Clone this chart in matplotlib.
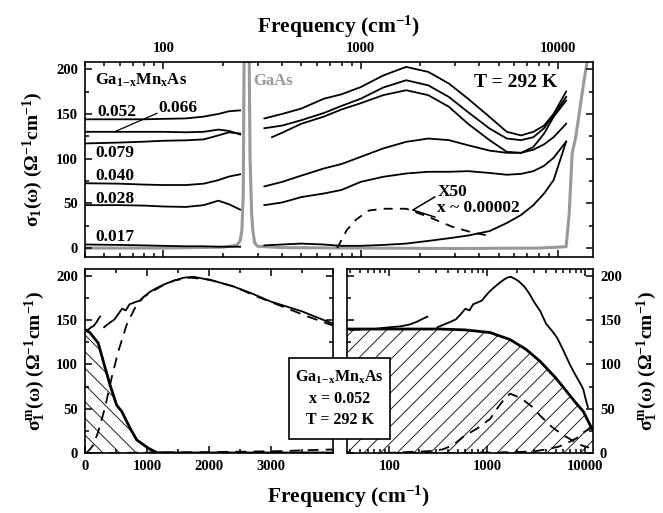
import numpy as np
import matplotlib
matplotlib.use('Agg')
import matplotlib.pyplot as plt
from matplotlib.ticker import MultipleLocator, FuncFormatter, NullFormatter
from matplotlib.patches import Rectangle

# ---- data ----
# top panel, far infrared part (below the GaAs phonon)
f_far = [40, 60, 80, 100, 130, 160, 190, 215, 245]
far_052 = [144, 144, 144, 144.5, 145, 147, 150, 153, 154]
far_066 = [130, 130, 130, 130, 129.5, 130, 132.5, 131, 127]
far_079 = [117, 118, 119, 120, 120.5, 121.5, 126, 129.5, 128]
far_040 = [72.5, 72, 71, 70.5, 70.5, 72, 76, 80, 82.5]
far_028 = [48, 48, 47.5, 46.5, 46, 48, 53, 49, 43]
far_017 = [4, 3.5, 3, 2.5, 2, 2, 1.5, 1.5, 1.5]

# top panel, mid infrared part
f_mid = [325, 400, 500, 650, 800, 1000, 1300, 1700, 2200, 2800, 3500,
         4500, 5500, 6500, 7500, 8500, 9500, 11000]
f_mid_079 = [355] + f_mid[1:]
mid_052 = [145, 150, 156, 167, 172, 180, 193, 202.6, 197, 184, 167,
           146.7, 130, 126, 130, 137, 150, 175]
mid_066 = [134, 137, 143, 151, 159, 167, 179.5, 187.7, 182, 169, 152,
           133.7, 122.5, 120.7, 124, 134, 148.6, 169]
mid_079 = [124, 129, 139, 147, 155, 162, 171, 176.5, 171, 158, 139,
           120.7, 107.6, 106.5, 113, 128, 146.7, 165]
mid_040 = [69, 74, 81, 89, 94, 102, 111.4, 118.8, 122.5, 120.7, 115,
           109, 106.5, 106.5, 110, 116, 124, 139]
mid_028 = [48, 51, 57, 61, 65, 74, 79.7, 83.4, 85.3, 85.3, 86,
           84, 82, 83, 86, 92, 101, 119]
mid_017 = [3, 4, 5, 4, 2.5, 2.5, 3.5, 5, 8, 11, 14,
           19, 28, 37, 48, 61, 76, 119]

# GaAs reference film x 50
f_x50 = [760, 850, 950, 1100, 1300, 1700, 2200, 2900, 3600, 4400]
v_x50 = [0, 20, 32, 42, 44, 44, 35, 24, 18, 14]

# GaAs substrate (grey)
f_gaas = [40, 100, 200, 235, 245, 250, 254, 258, 262, 266, 270, 275, 280,
          284, 290, 300, 400, 1000, 3000, 8000, 11000, 11400, 11800, 12300,
          12800, 13500, 14200, 15000]
v_gaas = [0, 0, 1, 3, 8, 20, 60, 300, 900, 900, 300, 100, 40,
          20, 6, 2, 0.5, 0, -0.5, 0, 1.5, 39, 106, 124,
          150, 185, 215, 240]

# bottom panels: x = 0.052 measured spectrum
f_m_far = [40, 70, 100, 130, 160, 190, 215, 245]
m_far = [139, 140, 142, 143, 145, 148, 151, 154]
f_m_mid = [310, 360, 420, 480, 540, 600, 660, 720, 800, 880, 960, 1050,
           1150, 1300, 1450, 1600, 1750, 1900, 2100, 2400, 2700, 3000,
           3500, 4000, 4600, 5200, 6000, 7000, 8000, 9000, 9600, 10200, 10700]
m_mid = [142, 145, 148, 151, 157, 163, 161, 168, 170, 172, 177, 182,
         186, 191, 195, 198, 199, 197, 194, 188, 180, 171,
         160, 146, 138, 130, 116, 100, 88, 78, 72, 60, 52]

# bottom left: narrow Drude and fit
f_drude_n = [0, 81, 216, 297, 405, 513, 594, 729, 837, 1026, 1161, 1400, 4000]
v_drude_n = [139.5, 136, 124, 103.6, 77, 54, 47, 28, 14.7, 5.3, 0.4, 0, 0]
f_fit = [25, 80, 135, 216, 324, 432, 540, 675, 810, 945, 1080, 1250, 1450,
         1700, 2000, 2400, 2800, 3200, 3600, 4000]
v_fit = [0, 4, 9, 24, 51, 85, 115, 145, 164, 176, 182, 189, 195,
         198, 196, 188, 176, 165, 154, 144]

# bottom right: broad Drude, mid-IR band, interband onset
f_drude_b = [37, 100, 200, 331, 600, 1073, 1720, 2500, 3470, 5000, 6500,
             8000, 9600, 11700, 12100]
v_drude_b = [140, 140, 140, 140, 139, 136, 128, 117, 103.6, 85, 69.5,
             57, 47, 28, 26]
f_mir = [90, 150, 250, 350, 450, 573, 800, 1073, 1300, 1526, 1720, 2000,
         2400, 2860, 3500, 4580, 6000, 7500, 9000, 11000]
v_mir = [0, 1, 2, 4, 9, 18.5, 28, 38.5, 52, 62, 67, 64,
         59, 52.5, 42, 29.5, 20, 14, 9, 6]
f_ib = [100, 500, 1000, 2000, 3090, 4000, 5340, 6500, 8300, 9500, 11000, 12000]
v_ib = [0, 0, 0.5, 1, 2, 4, 7, 11, 17, 22.7, 27, 30]

labels_x = ['0.052', '0.066', '0.079', '0.040', '0.028', '0.017']

# ---- style ----
plt.rcParams['font.family'] = ['Liberation Serif', 'DejaVu Serif']
plt.rcParams['font.weight'] = 'bold'
plt.rcParams['axes.labelweight'] = 'bold'
plt.rcParams['mathtext.fontset'] = 'custom'
plt.rcParams['mathtext.rm'] = 'Liberation Serif:bold'
plt.rcParams['mathtext.bf'] = 'Liberation Serif:bold'
plt.rcParams['mathtext.it'] = 'Liberation Serif:bold'
plt.rcParams['mathtext.default'] = 'bf'
plt.rcParams['axes.linewidth'] = 1.2
plt.rcParams['hatch.linewidth'] = 0.6

LW = 1.3
GREY = '#999999'
ylab = r'(Ω$^{-1}$cm$^{-1}$)'
intfmt = FuncFormatter(lambda v, p: '%d' % v)

fig = plt.figure(figsize=(6.63, 5.13), dpi=100)
ax = fig.add_axes([0.128, 0.499, 0.766, 0.380])
axl = fig.add_axes([0.128, 0.117, 0.374, 0.359])
axr = fig.add_axes([0.5234, 0.117, 0.371, 0.359])


def ticks(a):
    a.tick_params(which='both', direction='in', top=True, bottom=True,
                  left=True, right=True, labelsize=10.5, width=1.1, pad=5)
    a.tick_params(which='major', length=5)
    a.tick_params(which='minor', length=3)


# ---- top panel ----
ax.set_xscale('log')
ax.plot(f_gaas, v_gaas, color=GREY, lw=2.2, zorder=1)
for ys in [far_052, far_066, far_079, far_040, far_028, far_017]:
    ax.plot(f_far, ys, color='k', lw=LW)
for fs, ys in [(f_mid, mid_052), (f_mid, mid_066), (f_mid_079, mid_079),
               (f_mid, mid_040), (f_mid, mid_028), (f_mid, mid_017)]:
    ax.plot(fs, ys, color='k', lw=LW)
ax.plot(f_x50, v_x50, color='k', lw=LW, dashes=(5, 4))

ax.set_xlim(40, 15000)
ax.set_ylim(-10, 208)
ticks(ax)
ax.tick_params(labeltop=True, labelbottom=False)
ax.xaxis.set_major_formatter(intfmt)
ax.xaxis.set_minor_formatter(NullFormatter())
ax.yaxis.set_major_locator(MultipleLocator(50))
ax.yaxis.set_minor_locator(MultipleLocator(25))
ax.xaxis.set_label_position('top')
ax.set_xlabel(r'Frequency (cm$^{-1}$)', fontsize=15.5, labelpad=7)
ax.set_ylabel('σ$_{1}$(ω) ' + ylab, fontsize=14, labelpad=8)

ax.text(0.02, 0.905, r'Ga$_{1\!-\!x}$Mn$_x$As', transform=ax.transAxes,
        fontsize=12, va='center')
ax.text(0.331, 0.905, 'GaAs', transform=ax.transAxes, fontsize=12,
        va='center', color=GREY)
ax.text(0.93, 0.895, 'T = 292 K', transform=ax.transAxes, fontsize=14,
        va='center', ha='right')
lab_pos = [(0.024, 0.744), (0.144, 0.762), (0.02, 0.532), (0.02, 0.417),
           (0.02, 0.296), (0.02, 0.101)]
for s, (px, py) in zip(labels_x, lab_pos):
    ax.text(px, py, s, transform=ax.transAxes, fontsize=12.5, va='center')
ax.plot([0.059, 0.142], [0.643, 0.737], transform=ax.transAxes,
        color='k', lw=0.9)
ax.text(0.695, 0.333, 'X50', transform=ax.transAxes, fontsize=12.5,
        va='center')
ax.text(0.693, 0.251, 'x ~ 0.00002', transform=ax.transAxes, fontsize=12.5,
        va='center')
ax.plot([0.689, 0.6457, 0.689], [0.308, 0.241, 0.205],
        transform=ax.transAxes, color='k', lw=1.1)

# ---- bottom left (linear) ----
axl.fill_between(f_drude_n, 0, v_drude_n, facecolor='none', edgecolor='k',
                 hatch='\\\\', linewidth=0)
axl.plot(f_drude_n, v_drude_n, color='k', lw=2.0)
axl.plot(f_m_far, m_far, color='k', lw=LW)
axl.plot(f_m_mid, m_mid, color='k', lw=LW)
axl.plot(f_fit, v_fit, color='k', lw=LW, dashes=(6, 4))
axl.plot(f_ib, v_ib, color='k', lw=LW, dashes=(6, 4))
axl.set_xlim(0, 4000)
axl.set_ylim(0, 208)
ticks(axl)
axl.xaxis.set_major_locator(MultipleLocator(1000))
axl.xaxis.set_minor_locator(MultipleLocator(500))
axl.yaxis.set_major_locator(MultipleLocator(50))
axl.yaxis.set_minor_locator(MultipleLocator(25))
axl.set_xticks([0, 1000, 2000, 3000])
axl.set_ylabel('σ$_{1}^{m}$(ω) ' + ylab, fontsize=14, labelpad=6)

# ---- bottom right (log) ----
axr.set_xscale('log')
axr.fill_between(f_drude_b, 0, v_drude_b, facecolor='none', edgecolor='k',
                 hatch='//', linewidth=0)
axr.plot(f_drude_b, v_drude_b, color='k', lw=2.0)
axr.plot(f_m_far, m_far, color='k', lw=LW)
axr.plot(f_m_mid, m_mid, color='k', lw=LW)
axr.plot(f_mir, v_mir, color='k', lw=LW, dashes=(6, 4))
axr.plot(f_ib, v_ib, color='k', lw=LW, dashes=(6, 4))
axr.set_xlim(37, 12070)
axr.set_ylim(0, 208)
ticks(axr)
axr.tick_params(labelleft=False, labelright=True)
axr.xaxis.set_major_formatter(intfmt)
axr.xaxis.set_minor_formatter(NullFormatter())
axr.yaxis.set_major_locator(MultipleLocator(50))
axr.yaxis.set_minor_locator(MultipleLocator(25))
axr.yaxis.set_label_position('right')
axr.set_ylabel('σ$_{1}^{m}$(ω) ' + ylab, fontsize=14, labelpad=9)

fig.text(0.525, 0.031, r'Frequency (cm$^{-1}$)', fontsize=15.5,
         ha='center', va='center')

# sample box spanning both lower panels
box = Rectangle((289 / 663, 1 - 439 / 513), 101 / 663, 81 / 513,
                transform=fig.transFigure, facecolor='white',
                edgecolor='k', lw=1.2, zorder=10)
fig.patches.append(box)
for txt, yp in [(r'Ga$_{1\!-\!x}$Mn$_x$As', 377), ('x = 0.052', 399),
                ('T = 292 K', 420)]:
    fig.text(339.5 / 663, 1 - yp / 513, txt, fontsize=11.5, ha='center',
             va='center', zorder=11)

fig.savefig('out.png', dpi=100)
